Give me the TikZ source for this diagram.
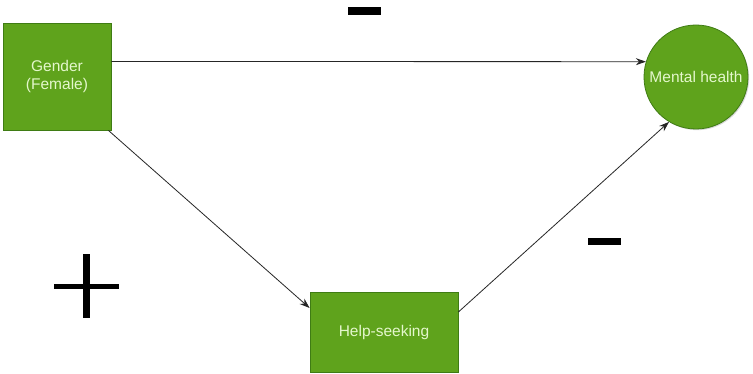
\documentclass[tikz,border=0pt]{standalone}
\usepackage{fontspec}
\setmainfont{Liberation Sans}
\usetikzlibrary{arrows.meta,shadows}
\definecolor{boxfill}{HTML}{5FA31C}
\definecolor{boxline}{HTML}{3F7C14}
\definecolor{boxtext}{HTML}{E4F7CC}
\tikzset{
  greenbox/.style={draw=boxline, fill=boxfill, line width=0.8pt, text=boxtext,
    font=\fontsize{15.5}{18.5}\selectfont, align=center, inner sep=0pt,
    drop shadow={shadow xshift=1.2pt, shadow yshift=-1.2pt, opacity=0.3}},
  arr/.style={draw=black!85, line width=0.8pt, -{Stealth[length=10pt,width=7pt]}},
  signmark/.style={fill=black}
}
\begin{document}
\begin{tikzpicture}[x=1pt,y=-1pt]
\useasboundingbox[fill=white] (0,0) rectangle (753,374);
\node[greenbox, rectangle, minimum width=108pt, minimum height=107pt] (g) at (57,76.5) {Gender\\(Female)};
\node[greenbox, circle, minimum size=104pt] (m) at (696,77) {Mental health};
\node[greenbox, rectangle, minimum width=148pt, minimum height=80pt] (h) at (384,332) {Help-seeking};
\draw[arr] ([yshift=15pt]g.east) -- (m.163);
\draw[arr] ([xshift=-3pt]g.south east) -- ([yshift=24pt]h.west);
\draw[arr] ([yshift=20pt]h.east) -- (m.-121);
% signs
\fill[signmark] (348,7) rectangle (381,15);
\fill[signmark] (588,238) rectangle (621,245);
\fill[signmark] (54,284) rectangle (119,289);
\fill[signmark] (83,254) rectangle (90,318);
\end{tikzpicture}
\end{document}
